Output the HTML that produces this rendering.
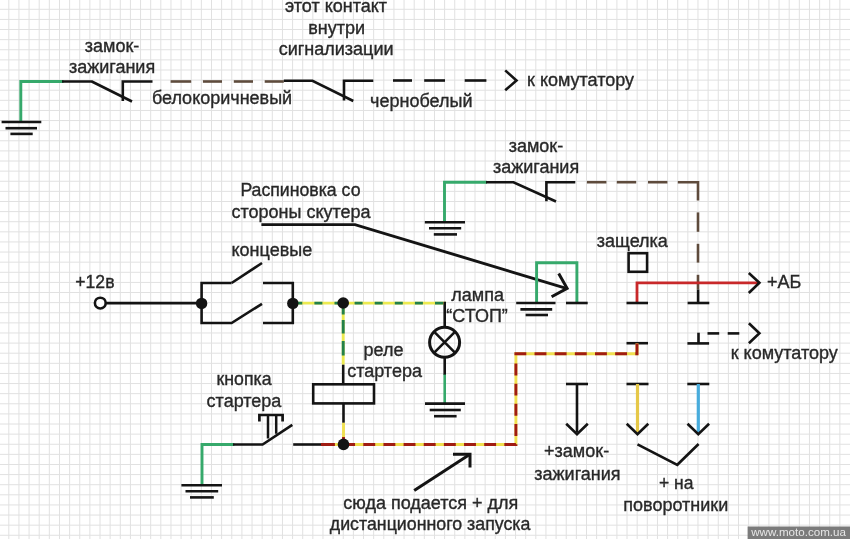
<!DOCTYPE html>
<html><head><meta charset="utf-8"><style>
html,body{margin:0;padding:0;background:#fff;}
svg{display:block;filter:blur(0.45px);}
text{font-family:"Liberation Sans",sans-serif;}
</style></head><body>
<svg width="850" height="539" viewBox="0 0 850 539" stroke-linecap="butt">
<rect width="850" height="539" fill="#ffffff"/>
<path d="M8.80 0V539M18.94 0V539M29.07 0V539M39.20 0V539M49.34 0V539M59.47 0V539M69.61 0V539M79.75 0V539M89.88 0V539M100.02 0V539M110.15 0V539M120.29 0V539M130.42 0V539M140.56 0V539M150.69 0V539M160.82 0V539M170.96 0V539M181.09 0V539M191.23 0V539M201.36 0V539M211.50 0V539M221.63 0V539M231.77 0V539M241.90 0V539M252.04 0V539M262.17 0V539M272.31 0V539M282.44 0V539M292.58 0V539M302.71 0V539M312.85 0V539M322.98 0V539M333.12 0V539M343.25 0V539M353.39 0V539M363.52 0V539M373.66 0V539M383.79 0V539M393.93 0V539M404.06 0V539M414.20 0V539M424.33 0V539M434.47 0V539M444.60 0V539M454.74 0V539M464.87 0V539M475.01 0V539M485.14 0V539M495.28 0V539M505.41 0V539M515.55 0V539M525.68 0V539M535.82 0V539M545.95 0V539M556.09 0V539M566.22 0V539M576.36 0V539M586.49 0V539M596.63 0V539M606.76 0V539M616.90 0V539M627.03 0V539M637.17 0V539M647.30 0V539M657.44 0V539M667.57 0V539M677.71 0V539M687.84 0V539M697.98 0V539M708.11 0V539M718.25 0V539M728.38 0V539M738.52 0V539M748.65 0V539M758.79 0V539M768.92 0V539M779.06 0V539M789.19 0V539M799.33 0V539M809.46 0V539M819.60 0V539M829.73 0V539M839.87 0V539M0 9.30H850M0 19.41H850M0 29.53H850M0 39.65H850M0 49.76H850M0 59.88H850M0 69.99H850M0 80.11H850M0 90.22H850M0 100.33H850M0 110.45H850M0 120.56H850M0 130.68H850M0 140.79H850M0 150.91H850M0 161.03H850M0 171.14H850M0 181.26H850M0 191.37H850M0 201.49H850M0 211.60H850M0 221.72H850M0 231.83H850M0 241.95H850M0 252.06H850M0 262.18H850M0 272.29H850M0 282.41H850M0 292.52H850M0 302.64H850M0 312.75H850M0 322.87H850M0 332.98H850M0 343.10H850M0 353.21H850M0 363.33H850M0 373.44H850M0 383.56H850M0 393.67H850M0 403.79H850M0 413.90H850M0 424.02H850M0 434.13H850M0 444.25H850M0 454.36H850M0 464.48H850M0 474.59H850M0 484.71H850M0 494.82H850M0 504.94H850M0 515.05H850M0 525.17H850M0 535.28H850" stroke="#e1e1e1" stroke-width="1" fill="none"/>
<path d="M20.8 122 V81.5 H63.6" stroke="#36a96b" stroke-width="2.9" fill="none" />
<line x1="1.6" y1="122" x2="41.3" y2="122" stroke="#141414" stroke-width="2.6" />
<line x1="5.5" y1="128.2" x2="37" y2="128.2" stroke="#141414" stroke-width="2.6" />
<line x1="10.4" y1="133.9" x2="32.7" y2="133.9" stroke="#141414" stroke-width="2.6" />
<path d="M62 81.5 H91.8 L132 101.5" stroke="#141414" stroke-width="2.6" fill="none" stroke-linejoin="round"/>
<path d="M122.8 101 V81.5 H152.5" stroke="#141414" stroke-width="2.6" fill="none" />
<line x1="170.6" y1="81.5" x2="191.2" y2="81.5" stroke="#5e4b3c" stroke-width="2.6" />
<line x1="202.9" y1="81.5" x2="222" y2="81.5" stroke="#5e4b3c" stroke-width="2.6" />
<line x1="233.8" y1="81.5" x2="253" y2="81.5" stroke="#5e4b3c" stroke-width="2.6" />
<line x1="264.7" y1="81.5" x2="283.8" y2="81.5" stroke="#5e4b3c" stroke-width="2.6" />
<path d="M283.8 80.8 H312.5 L353.3 101" stroke="#141414" stroke-width="2.6" fill="none" />
<path d="M344 100.6 V80.8 H373.3" stroke="#141414" stroke-width="2.6" fill="none" />
<line x1="393" y1="80.5" x2="412" y2="80.5" stroke="#141414" stroke-width="2.6" />
<line x1="424.2" y1="80.5" x2="445" y2="80.5" stroke="#141414" stroke-width="2.6" />
<line x1="464.7" y1="80.5" x2="486.4" y2="80.5" stroke="#141414" stroke-width="2.6" />
<path d="M505.2 70.4 L516.5 80.5 L505.2 90.3" stroke="#141414" stroke-width="2.6" fill="none" stroke-linejoin="miter"/>
<text x="84.8" y="51.5" font-size="18" fill="#282828" stroke="#282828" stroke-width="0.35" >замок-</text>
<text x="68.9" y="73" font-size="18" fill="#282828" stroke="#282828" stroke-width="0.35" >зажигания</text>
<text x="151.9" y="103.5" font-size="18" fill="#282828" stroke="#282828" stroke-width="0.35" >белокоричневый</text>
<text x="285.0" y="11.8" font-size="18" fill="#282828" stroke="#282828" stroke-width="0.35" >этот контакт</text>
<text x="308.3" y="33.8" font-size="18" fill="#282828" stroke="#282828" stroke-width="0.35" >внутри</text>
<text x="278.7" y="54.8" font-size="18" fill="#282828" stroke="#282828" stroke-width="0.35" >сигнализации</text>
<text x="370.1" y="106.5" font-size="18" fill="#282828" stroke="#282828" stroke-width="0.35" >чернобелый</text>
<text x="527.0" y="86.2" font-size="18" fill="#282828" stroke="#282828" stroke-width="0.35" >к комутатору</text>
<path d="M444.5 222.5 V182.2 H487" stroke="#36a96b" stroke-width="2.9" fill="none" />
<line x1="424.8" y1="222.3" x2="465" y2="222.3" stroke="#141414" stroke-width="2.6" />
<line x1="429" y1="228.3" x2="461.2" y2="228.3" stroke="#141414" stroke-width="2.6" />
<line x1="433.8" y1="234.4" x2="457" y2="234.4" stroke="#141414" stroke-width="2.6" />
<path d="M486 182.2 H513.5 L556 201.5" stroke="#141414" stroke-width="2.6" fill="none" />
<path d="M546.4 201.2 V182.2 H575.3" stroke="#141414" stroke-width="2.6" fill="none" />
<line x1="586.9" y1="182.2" x2="606.4" y2="182.2" stroke="#5e4b3c" stroke-width="2.6" />
<line x1="616.8" y1="182.2" x2="636.2" y2="182.2" stroke="#5e4b3c" stroke-width="2.6" />
<line x1="648" y1="182.2" x2="667.4" y2="182.2" stroke="#5e4b3c" stroke-width="2.6" />
<path d="M677.8 182.2 H698 V200.5" stroke="#5e4b3c" stroke-width="2.6" fill="none" />
<line x1="698" y1="212.4" x2="698" y2="231.8" stroke="#5e4b3c" stroke-width="2.6" />
<line x1="698" y1="243.8" x2="698" y2="262.6" stroke="#5e4b3c" stroke-width="2.6" />
<line x1="698" y1="274.8" x2="698" y2="289.5" stroke="#5e4b3c" stroke-width="2.6" />
<text x="508.7" y="151.8" font-size="18" fill="#282828" stroke="#282828" stroke-width="0.35" >замок-</text>
<text x="492.9" y="172.5" font-size="18" fill="#282828" stroke="#282828" stroke-width="0.35" >зажигания</text>
<text x="240.4" y="196" font-size="17.7" fill="#282828" stroke="#282828" stroke-width="0.35" >Распиновка со</text>
<text x="231.5" y="217.9" font-size="18" fill="#282828" stroke="#282828" stroke-width="0.35" >стороны скутера</text>
<path d="M261.4 224.6 H355 L567.1 288.6" stroke="#141414" stroke-width="2.9" fill="none" />
<path d="M558.7 273.4 L567.1 288.3 L551.6 296.8" stroke="#141414" stroke-width="3" fill="none" />
<path d="M536.6 303 V262.7 H576.9 V303" stroke="#36a96b" stroke-width="2.9" fill="none" />
<line x1="516.2" y1="303" x2="555.5" y2="303" stroke="#141414" stroke-width="2.6" />
<line x1="520.4" y1="309.4" x2="552.2" y2="309.4" stroke="#141414" stroke-width="2.6" />
<line x1="525.6" y1="315" x2="548" y2="315" stroke="#141414" stroke-width="2.6" />
<line x1="566" y1="303" x2="587.7" y2="303" stroke="#141414" stroke-width="2.6" />
<text x="596.8" y="247.2" font-size="18" fill="#282828" stroke="#282828" stroke-width="0.35" >защелка</text>
<rect x="628.6" y="253.2" width="18.5" height="18.6" stroke="#141414" stroke-width="2.6" fill="none"/>
<path d="M637 303 V282.8 H759.4" stroke="#c8282a" stroke-width="2.8" fill="none" />
<path d="M748.8 273 L759.4 282.8 L748.8 293" stroke="#141414" stroke-width="2.6" fill="none" />
<text x="767.1" y="287.8" font-size="18" fill="#282828" stroke="#282828" stroke-width="0.35" >+АБ</text>
<line x1="626.5" y1="303" x2="648" y2="303" stroke="#141414" stroke-width="2.6" />
<line x1="687.6" y1="303" x2="709.3" y2="303" stroke="#141414" stroke-width="2.6" />
<line x1="698.1" y1="289.5" x2="698.1" y2="303" stroke="#141414" stroke-width="2.6" />
<line x1="626.5" y1="343.2" x2="648" y2="343.2" stroke="#141414" stroke-width="2.6" />
<line x1="687.4" y1="343.4" x2="709.1" y2="343.4" stroke="#141414" stroke-width="2.6" />
<line x1="698.5" y1="343.4" x2="698.5" y2="332.7" stroke="#141414" stroke-width="2.6" />
<line x1="707.5" y1="333.4" x2="719.2" y2="333.4" stroke="#141414" stroke-width="2.6" />
<line x1="727.7" y1="333.4" x2="739.3" y2="333.4" stroke="#141414" stroke-width="2.6" />
<path d="M748.9 323.2 L759.4 333.3 L748.9 343.3" stroke="#141414" stroke-width="2.6" fill="none" />
<text x="730.7" y="358.5" font-size="18" fill="#282828" stroke="#282828" stroke-width="0.35" >к комутатору</text>
<text x="75.3" y="288.2" font-size="17.6" fill="#282828" stroke="#282828" stroke-width="0.35" >+12в</text>
<text x="231.5" y="256" font-size="18" fill="#282828" stroke="#282828" stroke-width="0.35" >концевые</text>
<circle cx="100.3" cy="303.1" r="5.4" stroke="#141414" stroke-width="2.6" fill="#fff"/>
<line x1="105.7" y1="303.1" x2="201.6" y2="303.1" stroke="#141414" stroke-width="2.6" />
<path d="M231.6 283 H201.6 V323 H231.6 L262 303.8" stroke="#141414" stroke-width="2.6" fill="none" />
<path d="M231.6 283 L262 263" stroke="#141414" stroke-width="2.6" fill="none" />
<path d="M263 283 H292.8 V323 H263" stroke="#141414" stroke-width="2.6" fill="none" />
<line x1="292.8" y1="303.1" x2="446" y2="303.1" stroke="#ecea50" stroke-width="2.9" />
<line x1="292.8" y1="303.1" x2="446" y2="303.1" stroke="#23804a" stroke-width="2.9" stroke-dasharray="8 12.1" stroke-dashoffset="-1.5"/>
<line x1="343.2" y1="303.1" x2="343.2" y2="364.7" stroke="#ecea50" stroke-width="2.9" />
<line x1="343.2" y1="306" x2="343.2" y2="314.5" stroke="#23804a" stroke-width="2.9" />
<line x1="343.2" y1="320" x2="343.2" y2="333.5" stroke="#23804a" stroke-width="2.9" />
<line x1="343.2" y1="341" x2="343.2" y2="355.5" stroke="#23804a" stroke-width="2.9" />
<circle cx="201.6" cy="303.4" r="5.7" fill="#141414"/>
<circle cx="292.8" cy="303.4" r="5.7" fill="#141414"/>
<circle cx="343.2" cy="303" r="5.8" fill="#141414"/>
<path d="M444.7 301.7 V327.2" stroke="#141414" stroke-width="2.6" fill="none" />
<line x1="343.2" y1="364.7" x2="343.2" y2="384.3" stroke="#141414" stroke-width="2.6" />
<rect x="313.2" y="384.3" width="60.8" height="19.1" stroke="#141414" stroke-width="2.6" fill="none"/>
<line x1="343.5" y1="403.4" x2="343.5" y2="422.8" stroke="#141414" stroke-width="2.6" />
<circle cx="444.6" cy="342.3" r="15" stroke="#141414" stroke-width="3" fill="none"/>
<path d="M434 331.7 L455.2 352.9 M455.2 331.7 L434 352.9" stroke="#141414" stroke-width="2.6" fill="none" />
<line x1="444.7" y1="358" x2="444.7" y2="375" stroke="#141414" stroke-width="2.6" />
<line x1="444.7" y1="374.6" x2="444.7" y2="403" stroke="#36a96b" stroke-width="2.6" />
<line x1="425" y1="403.6" x2="465" y2="403.6" stroke="#141414" stroke-width="2.6" />
<line x1="429.7" y1="410" x2="460.8" y2="410" stroke="#141414" stroke-width="2.6" />
<line x1="434" y1="416.2" x2="456.6" y2="416.2" stroke="#141414" stroke-width="2.6" />
<text x="451.3" y="301.2" font-size="18" fill="#282828" stroke="#282828" stroke-width="0.35" >лампа</text>
<text x="446.3" y="322.2" font-size="18" fill="#282828" stroke="#282828" stroke-width="0.35" >“СТОП”</text>
<text x="363.5" y="356" font-size="18" fill="#282828" stroke="#282828" stroke-width="0.35" >реле</text>
<text x="347.2" y="376.6" font-size="18" fill="#282828" stroke="#282828" stroke-width="0.35" >стартера</text>
<text x="216.6" y="385.4" font-size="17.7" fill="#282828" stroke="#282828" stroke-width="0.35" >кнопка</text>
<text x="206.6" y="406.5" font-size="18" fill="#282828" stroke="#282828" stroke-width="0.35" >стартера</text>
<path d="M202 485 V444.5 H234.4" stroke="#36a96b" stroke-width="2.9" fill="none" />
<line x1="181.4" y1="485.2" x2="222" y2="485.2" stroke="#141414" stroke-width="2.6" />
<line x1="185.5" y1="491.2" x2="218.2" y2="491.2" stroke="#141414" stroke-width="2.6" />
<line x1="190" y1="497.4" x2="213.8" y2="497.4" stroke="#141414" stroke-width="2.6" />
<path d="M233 444.5 H262.6 L292.3 424.8" stroke="#141414" stroke-width="2.6" fill="none" />
<path d="M259.4 421.6 V415 H282.6 V421.6" stroke="#141414" stroke-width="2.7" fill="none" />
<path d="M268 415 V438.4 M276.2 415 V433.7" stroke="#141414" stroke-width="2.5" fill="none" />
<line x1="293.2" y1="444.5" x2="321.5" y2="444.5" stroke="#141414" stroke-width="2.6" />
<path d="M323 444.5 H515.9 V353.8 H637 V343.2" stroke="#f0e050" stroke-width="2.9" fill="none" />
<path d="M323 444.5 H515.9 V353.8 H637 V343.2" stroke="#a01c12" stroke-width="2.9" fill="none" stroke-dasharray="11.9 8.25"/>
<line x1="321" y1="444.5" x2="323" y2="444.5" stroke="#a01c12" stroke-width="2.9" />
<line x1="343.5" y1="422.8" x2="343.5" y2="437" stroke="#f0e050" stroke-width="2.9" />
<line x1="343.5" y1="437" x2="343.5" y2="444.5" stroke="#a01c12" stroke-width="2.9" />
<circle cx="343.5" cy="444.4" r="5.8" fill="#141414"/>
<path d="M414.2 490.5 L470 454.3" stroke="#141414" stroke-width="3" fill="none" />
<path d="M453 454.3 H470 V467.6" stroke="#141414" stroke-width="3" fill="none" />
<text x="343.3" y="508.8" font-size="18" fill="#282828" stroke="#282828" stroke-width="0.35" >сюда подается + для</text>
<text x="329.8" y="530.3" font-size="17.8" fill="#282828" stroke="#282828" stroke-width="0.35" >дистанционного запуска</text>
<line x1="566" y1="384" x2="588" y2="384" stroke="#141414" stroke-width="2.6" />
<line x1="577" y1="384" x2="577" y2="432" stroke="#141414" stroke-width="2.6" />
<path d="M566.2 423.8 L577 434.3 L587.8 423.8" stroke="#141414" stroke-width="2.6" fill="none" />
<line x1="626.5" y1="384" x2="648.5" y2="384" stroke="#141414" stroke-width="2.6" />
<line x1="637.5" y1="384" x2="637.5" y2="432" stroke="#e6c848" stroke-width="3.2" />
<path d="M626.7 423.8 L637.5 434.3 L648.3 423.8" stroke="#141414" stroke-width="2.6" fill="none" />
<line x1="687.3" y1="384" x2="709.3" y2="384" stroke="#141414" stroke-width="2.6" />
<line x1="698.3" y1="384" x2="698.3" y2="432" stroke="#48acdc" stroke-width="3.2" />
<path d="M687.5 423.8 L698.3 434.3 L709.0999999999999 423.8" stroke="#141414" stroke-width="2.6" fill="none" />
<path d="M637.5 444.3 L677.3 464.8 L698.6 444" stroke="#141414" stroke-width="2.6" fill="none" />
<text x="544.1" y="457" font-size="18" fill="#282828" stroke="#282828" stroke-width="0.35" >+замок-</text>
<text x="534.3" y="479.5" font-size="18" fill="#282828" stroke="#282828" stroke-width="0.35" >зажигания</text>
<text x="658.9" y="489" font-size="17.5" fill="#282828" stroke="#282828" stroke-width="0.35" >+ на</text>
<text x="623.3" y="511" font-size="18" fill="#282828" stroke="#282828" stroke-width="0.35" >поворотники</text>
<rect x="747.6" y="526.5" width="103" height="13" fill="#7b7b7b"/>
<text x="751.2" y="535.6" font-size="11.6" fill="#e6e6e6" stroke="#e6e6e6" stroke-width="0" >www.moto.com.ua</text>
</svg></body></html>
